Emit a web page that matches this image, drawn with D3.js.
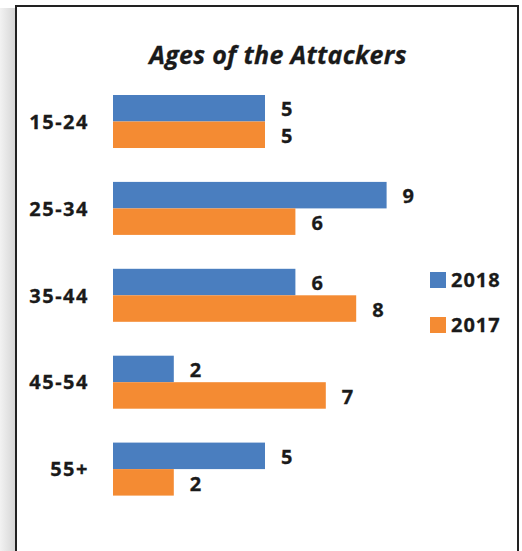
<!DOCTYPE html>
<html>
<head>
<meta charset="utf-8">
<script src="https://cdn.jsdelivr.net/npm/d3@7"></script>
<style>
  html, body { margin: 0; padding: 0; background: #fff; }
  svg { display: block; }
  text { font-family: "Open Sans", sans-serif; font-weight: bold; fill: #1a1a1a; stroke: #1a1a1a; stroke-width: 0.3px; }
</style>
</head>
<body>
<div id="chart"></div>
<script>
// data
const categories = ['15-24', '25-34', '35-44', '45-54', '55+'];
const seriesNames = ['2018', '2017'];
const values2018 = [5, 9, 6, 2, 5];
const values2017 = [5, 6, 8, 7, 2];
const colors = ['#4a7ebf', '#f48b33'];

const width = 522, height = 551;

const svg = d3.select('#chart').append('svg')
  .attr('width', width)
  .attr('height', height);

// page shadow on the left
const defs = svg.append('defs');
const grad = defs.append('linearGradient').attr('id', 'shade');
grad.append('stop').attr('offset', '0%').attr('stop-color', '#f2f2f2');
grad.append('stop').attr('offset', '100%').attr('stop-color', '#d4d4d4');
svg.append('rect')
  .attr('x', 0).attr('y', 8)
  .attr('width', 16).attr('height', height)
  .attr('fill', 'url(#shade)');

// frame
svg.append('rect')
  .attr('x', 16).attr('y', 6)
  .attr('width', 502).attr('height', height)
  .attr('fill', '#fff')
  .attr('stroke', '#222')
  .attr('stroke-width', 2);

svg.append('text')
  .attr('x', 278).attr('y', 64)
  .attr('text-anchor', 'middle')
  .style('font-size', '25px')
  .style('font-style', 'italic')
  .style('letter-spacing', '0.3px')
  .text('Ages of the Attackers');

const rows = categories.map((c, i) => ({ cat: c, vals: [values2018[i], values2017[i]] }));

const x = d3.scaleLinear().domain([0, 10]).range([113, 417]);
const y = d3.scaleBand().domain(categories).range([95, 495.6]).paddingInner(0.39).paddingOuter(0);
const ySub = d3.scaleBand().domain(seriesNames).range([0, y.bandwidth()]);

// category labels
const yAxis = svg.append('g')
  .attr('transform', 'translate(89,0)')
  .call(d3.axisLeft(y).tickSize(0).tickPadding(0));
yAxis.select('.domain').remove();
yAxis.selectAll('text')
  .attr('dy', '0.36em')
  .style('font-size', '20px')
  .style('letter-spacing', '1.5px')
  .style('font-family', '"Open Sans", sans-serif')
  .attr('fill', '#1a1a1a');

const groups = svg.selectAll('.grp')
  .data(rows)
  .enter().append('g')
  .attr('class', 'grp')
  .attr('transform', d => `translate(0,${y(d.cat)})`);

groups.selectAll('rect')
  .data(d => d.vals.map((v, j) => ({ v, s: seriesNames[j], j })))
  .enter().append('rect')
  .attr('x', x(0))
  .attr('y', d => ySub(d.s))
  .attr('width', d => x(d.v) - x(0))
  .attr('height', ySub.bandwidth())
  .attr('fill', d => colors[d.j]);

groups.selectAll('.val')
  .data(d => d.vals.map((v, j) => ({ v, s: seriesNames[j], j })))
  .enter().append('text')
  .attr('class', 'val')
  .attr('x', d => x(d.v) + 16)
  .attr('y', d => ySub(d.s) + ySub.bandwidth() / 2 + 1)
  .attr('dy', '0.36em')
  .style('font-size', '20px')
  .text(d => d.v);

// legend
const legend = svg.append('g').attr('transform', 'translate(430,272)');
const li = legend.selectAll('g')
  .data(seriesNames)
  .enter().append('g')
  .attr('transform', (d, i) => `translate(0,${i * 45})`);
li.append('rect')
  .attr('width', 16).attr('height', 16)
  .attr('fill', (d, i) => colors[i]);
li.append('text')
  .attr('x', 21).attr('y', 8)
  .attr('dy', '0.36em')
  .style('font-size', '20px')
  .style('letter-spacing', '1px')
  .text(d => d);
</script>
</body>
</html>
